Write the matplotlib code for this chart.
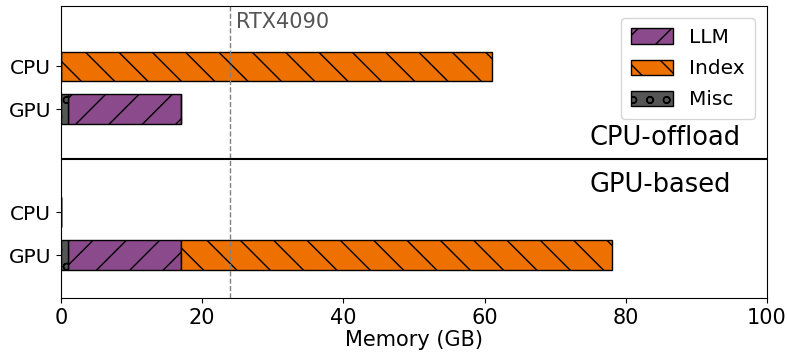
import numpy as np
import matplotlib.pyplot as plt

# data (GB)
devices = ['CPU', 'GPU', 'CPU', 'GPU']
ypos = [4.4, 3.4, 1.0, 0.0]   # top group: CPU-offload, bottom group: GPU-based
misc = [0, 1, 0, 1]
llm = [0, 16, 0, 16]
index = [61, 0, 0, 61]
gpu_limit = 24

c_llm = '#8b4a8b'
c_index = '#ee7100'
c_misc = '#555555'

fig, ax = plt.subplots(figsize=(7.87, 3.53), dpi=100)
fig.subplots_adjust(left=0.0775, right=0.9746, bottom=0.156, top=0.983)

misc = np.array(misc)
llm = np.array(llm)
index = np.array(index)
h = 0.68

ax.barh(ypos, llm, h, left=misc, color=c_llm, edgecolor='black', hatch='/', label='LLM')
left_idx = np.where(np.array(devices) == 'CPU', 0, misc + llm)
ax.barh(ypos, index, h, left=left_idx, color=c_index, edgecolor='black', hatch='\\', label='Index')
ax.barh(ypos, misc, h, color=c_misc, edgecolor='black', hatch='o', label='Misc')

ax.axvline(gpu_limit, color='gray', linestyle='--', linewidth=1)
ax.text(gpu_limit + 0.8, 5.42, 'RTX4090', color='#555555', fontsize=15, va='center', ha='left')

ax.axhline(2.23, color='black', linewidth=1.5)
ax.text(74.8, 2.72, 'CPU-offload', fontsize=18.5, ha='left', va='center')
ax.text(74.8, 1.62, 'GPU-based', fontsize=18.5, ha='left', va='center')

ax.set_xlim(0, 100)
ax.set_ylim(-1.0, 5.8)
ax.set_yticks(ypos)
ax.set_yticklabels(devices)
ax.tick_params(axis='y', labelsize=14.5)
ax.tick_params(axis='x', labelsize=15)
ax.set_xlabel('Memory (GB)', fontsize=15, labelpad=2)

ax.legend(loc='upper right', fontsize=14.5, handlelength=2.1, handleheight=0.8,
          labelspacing=0.6, borderpad=0.5, borderaxespad=0.6)

fig.savefig('out.png', dpi=100)
